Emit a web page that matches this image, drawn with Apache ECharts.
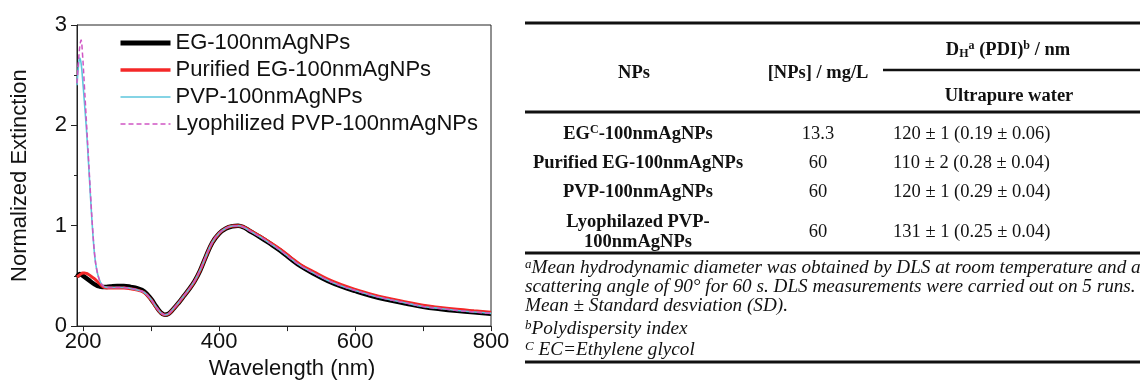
<!DOCTYPE html>
<html>
<head>
<meta charset="utf-8">
<script src="https://cdn.jsdelivr.net/npm/echarts@6/dist/echarts.min.js"></script>
<style>
  html, body { margin: 0; padding: 0; background: #fff; }
  #main { width: 1140px; height: 385px; }
</style>
</head>
<body>
<div id="main"></div>
<script>
// spectra
var wavelength = [191, 193, 195, 197, 199, 202, 205, 208, 211, 214, 217, 220, 224, 228, 232, 240, 250, 260, 270, 280,
  290, 300, 307, 314, 320, 326, 333, 340, 348, 356, 364, 372, 380, 390, 400, 410, 420, 428, 436, 445,
  460, 475, 490, 505, 520, 540, 560, 580, 600, 625, 650, 675, 700, 725, 750, 775, 800]
var egValues = [0.49, 0.51, 0.52, 0.515, 0.505, 0.49, 0.475, 0.46, 0.445, 0.43, 0.415, 0.405, 0.395, 0.39, 0.39,
  0.395, 0.40, 0.40, 0.39, 0.375, 0.345, 0.27, 0.20, 0.138, 0.113, 0.125, 0.172, 0.228, 0.298, 0.368,
  0.448, 0.552, 0.682, 0.832, 0.922, 0.972, 0.995, 1.0, 0.985, 0.948, 0.888, 0.822, 0.752, 0.672, 0.597,
  0.52, 0.45, 0.395, 0.35, 0.30, 0.26, 0.225, 0.192, 0.17, 0.152, 0.137, 0.124]
var purifiedEgValues = [0.49, 0.50, 0.51, 0.52, 0.53, 0.53, 0.525, 0.515, 0.50, 0.485, 0.47, 0.45, 0.425, 0.40, 0.385,
  0.38, 0.38, 0.38, 0.372, 0.358, 0.332, 0.262, 0.192, 0.133, 0.11, 0.122, 0.172, 0.228, 0.298, 0.368,
  0.448, 0.553, 0.683, 0.833, 0.924, 0.975, 0.997, 1.0, 0.988, 0.955, 0.897, 0.833, 0.765, 0.687, 0.612,
  0.538, 0.468, 0.412, 0.366, 0.316, 0.276, 0.241, 0.208, 0.186, 0.167, 0.152, 0.139]
var pvpValues = [2.40, 2.58, 2.67, 2.62, 2.48, 2.22, 1.95, 1.62, 1.27, 0.95, 0.70, 0.56, 0.46, 0.41, 0.39,
  0.385, 0.385, 0.385, 0.375, 0.36, 0.335, 0.265, 0.195, 0.135, 0.112, 0.125, 0.175, 0.23, 0.30, 0.37,
  0.45, 0.555, 0.685, 0.835, 0.925, 0.975, 0.997, 1.0, 0.985, 0.95, 0.89, 0.825, 0.755, 0.675, 0.60,
  0.525, 0.455, 0.40, 0.355, 0.305, 0.265, 0.23, 0.195, 0.175, 0.156, 0.14, 0.127]
var lyoPvpValues = [2.42, 2.62, 2.78, 2.85, 2.72, 2.38, 2.02, 1.66, 1.30, 0.97, 0.71, 0.565, 0.46, 0.41, 0.39,
  0.385, 0.385, 0.385, 0.375, 0.36, 0.335, 0.265, 0.195, 0.135, 0.112, 0.125, 0.175, 0.23, 0.30, 0.37,
  0.45, 0.555, 0.685, 0.835, 0.925, 0.975, 0.997, 1.0, 0.985, 0.95, 0.89, 0.825, 0.755, 0.675, 0.60,
  0.525, 0.455, 0.40, 0.355, 0.305, 0.265, 0.23, 0.195, 0.175, 0.156, 0.14, 0.127]
var seriesNames = ['EG-100nmAgNPs', 'Purified EG-100nmAgNPs', 'PVP-100nmAgNPs', 'Lyophilized PVP-100nmAgNPs']
var xTickLabels = [200, 400, 600, 800]
var xTicks = [200, 300, 400, 500, 600, 700, 800]

// table
var tableHeaders = ['NPs', '[NPs] / mg/L', 'D_H^a (PDI)^b / nm', 'Ultrapure water']
var tableNames = ['EG^C-100nmAgNPs', 'Purified EG-100nmAgNPs', 'PVP-100nmAgNPs', 'Lyophilazed PVP-\n100nmAgNPs']
var tableConc = ['13.3', '60', '60', '60']
var tableSizes = ['120 ± 1 (0.19 ± 0.06)', '110 ± 2 (0.28 ± 0.04)', '120 ± 1 (0.29 ± 0.04)', '131 ± 1 (0.25 ± 0.04)']
var footnotes = [
  '^aMean hydrodynamic diameter was obtained by DLS at room temperature and at a',
  'scattering angle of 90° for 60 s. DLS measurements were carried out on 5 runs.',
  'Mean ± Standard desviation (SD).',
  '^bPolydispersity index',
  '^C EC=Ethylene glycol'
]

function pairs (values) {
  return wavelength.map(function (w, i) { return [w, values[i]] })
}

// turn ^x / _x markers into rich text tokens
function toRich (s, base, sup, sub) {
  var out = ''
  var re = /([\^_])(\w)/g
  var last = 0
  var m
  while ((m = re.exec(s))) {
    if (m.index > last) out += '{' + base + '|' + s.slice(last, m.index) + '}'
    out += '{' + (m[1] === '^' ? sup : sub) + '|' + m[2] + '}'
    last = re.lastIndex
  }
  if (last < s.length) out += '{' + base + '|' + s.slice(last) + '}'
  return out
}

var serif = 'Liberation Serif'
var sans = 'Liberation Sans'
var ink = '#111'
var rich = {
  b: { fontFamily: serif, fontWeight: 'bold', fontSize: 18.5, fill: ink, lineHeight: 20 },
  bsup: { fontFamily: serif, fontWeight: 'bold', fontSize: 12, fill: ink, verticalAlign: 'top', lineHeight: 12 },
  bsub: { fontFamily: serif, fontWeight: 'bold', fontSize: 12, fill: ink, verticalAlign: 'bottom', lineHeight: 12 },
  r: { fontFamily: serif, fontSize: 18.5, fill: ink, lineHeight: 20 },
  i: { fontFamily: serif, fontStyle: 'italic', fontSize: 19.2, fill: ink, lineHeight: 20 },
  isup: { fontFamily: serif, fontStyle: 'italic', fontSize: 13, fill: ink, verticalAlign: 'top', lineHeight: 12 }
}

function cell (x, y, text, base, align) {
  return {
    type: 'text',
    x: x,
    y: y,
    style: {
      text: toRich(text, base, base === 'i' ? 'isup' : 'bsup', 'bsub'),
      rich: rich,
      align: align || 'center',
      verticalAlign: 'middle'
    }
  }
}

function rule (x1, x2, y, w) {
  return { type: 'line', shape: { x1: x1, y1: y, x2: x2, y2: y }, style: { stroke: ink, lineWidth: w } }
}

var rowY = [134, 163, 192, 232]
var tableGraphics = [
  rule(525, 1140, 23, 3),
  rule(883, 1140, 70, 2.5),
  rule(525, 1140, 112, 3),
  rule(525, 1140, 253, 3),
  rule(525, 1140, 362, 3),
  cell(634, 73, tableHeaders[0], 'b'),
  cell(818, 73, tableHeaders[1], 'b'),
  cell(1008, 50, tableHeaders[2], 'b'),
  cell(1009, 96, tableHeaders[3], 'b')
]
tableNames.forEach(function (n, i) {
  tableGraphics.push(cell(638, rowY[i], n, 'b'))
  tableGraphics.push(cell(818, rowY[i], tableConc[i], 'r'))
  tableGraphics.push(cell(893, rowY[i], tableSizes[i], 'r', 'left'))
})
var footY = [268, 287, 306, 329, 350]
footnotes.forEach(function (f, i) {
  tableGraphics.push(cell(525, footY[i], f, 'i', 'left'))
})

var lineStyles = [
  { color: '#000', width: 4.5 },
  { color: '#f42828', width: 3 },
  { color: '#5cc6dc', width: 1.6 },
  { color: '#d055c4', width: 1.5, type: [5, 3] }
]
var legendWidths = [5, 3.5, 1.6, 1.5]

var chart = echarts.init(document.getElementById('main'))
var option = {
  animation: false,
  backgroundColor: '#fff',
  grid: {
    left: 77,
    top: 25,
    width: 414,
    height: 304,
    show: true,
    borderColor: '#222',
    borderWidth: 1
  },
  legend: {
    orient: 'vertical',
    left: 113,
    top: 27,
    itemWidth: 50,
    itemHeight: 14,
    itemGap: 5,
    itemStyle: { opacity: 0 },
    textStyle: { fontFamily: sans, fontSize: 22, color: ink, lineHeight: 22 },
    data: seriesNames.map(function (n, i) {
      return { name: n, lineStyle: { width: legendWidths[i] } }
    })
  },
  xAxis: {
    type: 'value',
    min: 191,
    max: 800,
    name: 'Wavelength (nm)',
    nameLocation: 'middle',
    nameGap: 22,
    nameTextStyle: { fontFamily: sans, fontSize: 22, color: ink, padding: [0, 0, 0, 16] },
    axisLine: { lineStyle: { color: '#222', width: 1 } },
    axisTick: { customValues: xTicks, length: 5, lineStyle: { color: '#222' } },
    axisLabel: { customValues: xTickLabels, fontFamily: sans, fontSize: 22, color: ink, margin: 5 },
    splitLine: { show: false }
  },
  yAxis: {
    type: 'value',
    min: 0,
    max: 3,
    interval: 1,
    name: 'Normalized Extinction',
    nameLocation: 'middle',
    nameGap: 46,
    nameTextStyle: { fontFamily: sans, fontSize: 22, color: ink },
    axisLine: { show: true, lineStyle: { color: '#222', width: 1 } },
    axisTick: { show: true, length: 6, lineStyle: { color: '#222' } },
    minorTick: { show: true, splitNumber: 2, length: 3, lineStyle: { color: '#222' } },
    axisLabel: { fontFamily: sans, fontSize: 22, color: ink, margin: 10 },
    splitLine: { show: false }
  },
  series: [egValues, purifiedEgValues, pvpValues, lyoPvpValues].map(function (vals, i) {
    return {
      name: seriesNames[i],
      type: 'line',
      symbol: 'none',
      smooth: 0.4,
      data: pairs(vals),
      color: lineStyles[i].color,
      lineStyle: lineStyles[i]
    }
  }),
  graphic: tableGraphics
}
chart.setOption(option)
</script>
</body>
</html>
